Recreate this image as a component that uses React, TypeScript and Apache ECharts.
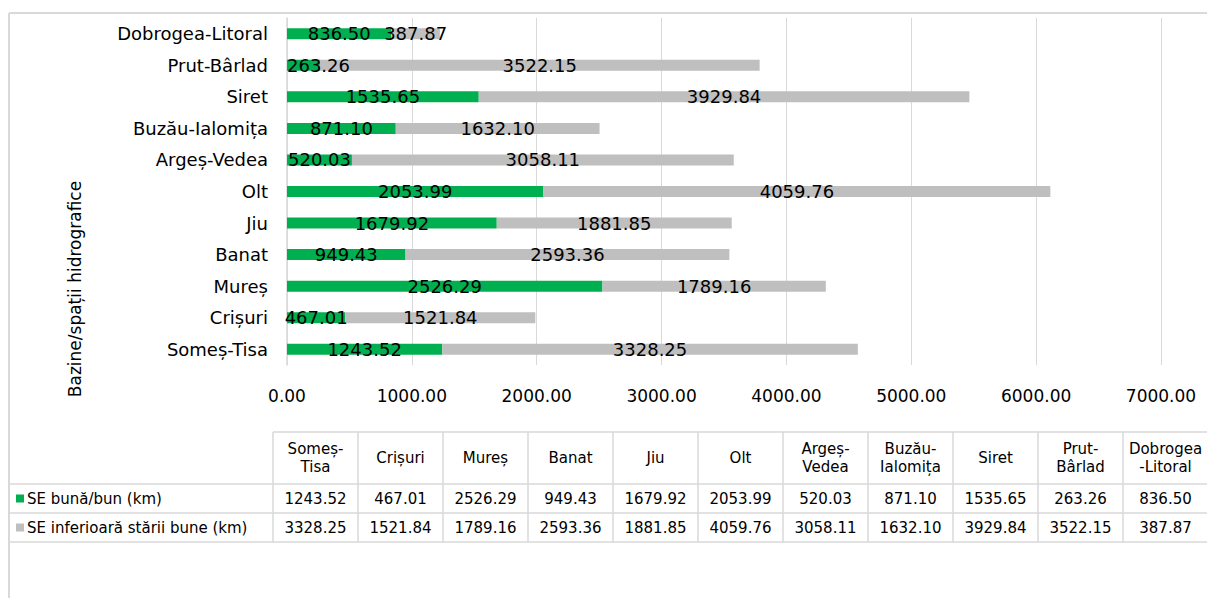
import React, { useEffect, useRef } from "react";
import * as echarts from "echarts";

const categories = ["Someș-Tisa", "Crișuri", "Mureș", "Banat", "Jiu", "Olt", "Argeș-Vedea", "Buzău-Ialomița", "Siret", "Prut-Bârlad", "Dobrogea-Litoral"];
const tableHeaders = ["Someș-\nTisa", "Crișuri", "Mureș", "Banat", "Jiu", "Olt", "Argeș-\nVedea", "Buzău-\nIalomița", "Siret", "Prut-\nBârlad", "Dobrogea\n-Litoral"];
const goodValues = [1243.52, 467.01, 2526.29, 949.43, 1679.92, 2053.99, 520.03, 871.10, 1535.65, 263.26, 836.50];
const poorValues = [3328.25, 1521.84, 1789.16, 2593.36, 1881.85, 4059.76, 3058.11, 1632.10, 3929.84, 3522.15, 387.87];
const seriesNames = ["SE bună/bun (km)", "SE inferioară stării bune (km)"];
const xTicks = [0, 1000, 2000, 3000, 4000, 5000, 6000, 7000];
const yAxisTitle = "Bazine/spații hidrografice";

const GREEN = "#00B050";
const GRAY = "#BFBFBF";
const LINE = "#D9D9D9";
const FONT = "DejaVu Sans";

export default function App() {
  const ref = useRef<HTMLDivElement>(null);
  useEffect(() => {
    if (!ref.current) return;
    const chart = echarts.init(ref.current, null, { renderer: "svg" });

    const gridLeft = 287;
    const gridRight = 46;
    const plotWidth = 1207 - gridLeft - gridRight;
    const xMax = xTicks[xTicks.length - 1];

    const canvas = document.createElement("canvas");
    const ctx = canvas.getContext("2d")!;
    ctx.font = `18px "${FONT}"`;
    // keep the first segment's label inside the plot area (as the original does)
    const goodData = goodValues.map((v) => {
      const barPx = (v / xMax) * plotWidth;
      const textW = ctx.measureText(v.toFixed(2)).width;
      if (barPx / 2 < textW / 2 - 2 && barPx < textW * 0.6) {
        return { value: v, label: { position: "insideLeft", distance: 0 } };
      }
      return v;
    });

    const tableLeft = 273;
    const colW = 85;
    const legLeft = 9;
    const headTop = 432;
    const headBottom = 484;
    const row1Bottom = 513;
    const row2Bottom = 542;
    const tableRight = tableLeft + categories.length * colW;
    const g: any[] = [];
    g.push({ type: "line", shape: { x1: 9, y1: 13, x2: 1207, y2: 13 }, style: { stroke: LINE, lineWidth: 2 } });
    g.push({ type: "line", shape: { x1: 9, y1: 13, x2: 9, y2: 598 }, style: { stroke: LINE, lineWidth: 2 } });
    g.push({ type: "line", shape: { x1: tableLeft, y1: headTop, x2: tableRight, y2: headTop }, style: { stroke: LINE, lineWidth: 1.5 } });
    [headBottom, row1Bottom, row2Bottom].forEach((y) =>
      g.push({ type: "line", shape: { x1: legLeft, y1: y, x2: tableRight, y2: y }, style: { stroke: LINE, lineWidth: 1.5 } })
    );
    for (let i = 0; i <= categories.length; i++) {
      const x = tableLeft + i * colW;
      g.push({ type: "line", shape: { x1: x, y1: headTop, x2: x, y2: row2Bottom }, style: { stroke: LINE, lineWidth: 1.5 } });
    }
    const rowsY = [(headBottom + row1Bottom) / 2, (row1Bottom + row2Bottom) / 2];
    const rowVals = [goodValues, poorValues];
    const rowColors = [GREEN, GRAY];
    categories.forEach((_, i) => {
      const cx = tableLeft + i * colW + colW / 2;
      g.push({
        type: "text",
        x: cx,
        y: (headTop + headBottom) / 2,
        style: { text: tableHeaders[i], align: "center", verticalAlign: "middle", font: `15px "${FONT}"`, fill: "#000", lineHeight: 18 },
      });
      rowVals.forEach((vals, r) => {
        g.push({
          type: "text",
          x: cx,
          y: rowsY[r],
          style: { text: vals[i].toFixed(2), align: "center", verticalAlign: "middle", font: `15px "${FONT}"`, fill: "#000" },
        });
      });
    });
    seriesNames.forEach((name, r) => {
      g.push({ type: "rect", shape: { x: 16, y: rowsY[r] - 4, width: 8, height: 8 }, style: { fill: rowColors[r] } });
      g.push({
        type: "text",
        x: 27,
        y: rowsY[r],
        style: { text: name, align: "left", verticalAlign: "middle", font: `15px "${FONT}"`, fill: "#000" },
      });
    });
    g.push({
      type: "text",
      x: 75,
      y: 289,
      rotation: Math.PI / 2,
      style: { text: yAxisTitle, align: "center", verticalAlign: "middle", font: `17px "${FONT}"`, fill: "#000" },
    });

    const labelStyle = {
      show: true,
      position: "inside",
      color: "#000",
      fontSize: 18,
      fontFamily: FONT,
      formatter: (p: any) => Number(p.value).toFixed(2),
    };

    chart.setOption({
      animation: false,
      textStyle: { fontFamily: FONT },
      grid: { left: gridLeft, right: gridRight, top: 18, bottom: 233, containLabel: false },
      xAxis: {
        type: "value",
        min: xTicks[0],
        max: xMax,
        interval: 1000,
        axisLine: { show: false },
        axisTick: { show: false },
        splitLine: { show: true, lineStyle: { color: LINE, width: 1 } },
        axisLabel: { color: "#000", fontSize: 17, fontFamily: FONT, margin: 22, formatter: (v: number) => v.toFixed(2) },
      },
      yAxis: {
        type: "category",
        data: categories,
        axisLine: { show: true, lineStyle: { color: LINE, width: 1.5 } },
        axisTick: { show: false },
        axisLabel: { color: "#000", fontSize: 18, fontFamily: FONT, margin: 19 },
      },
      series: [
        {
          name: seriesNames[0],
          type: "bar",
          stack: "total",
          data: goodData,
          barWidth: 11,
          itemStyle: { color: GREEN },
          label: labelStyle,
        },
        {
          name: seriesNames[1],
          type: "bar",
          stack: "total",
          data: poorValues,
          barWidth: 11,
          itemStyle: { color: GRAY },
          label: labelStyle,
        },
      ],
      graphic: { elements: g },
    });
    return () => chart.dispose();
  }, []);
  return (
    <div
      ref={ref}
      style={{ position: "fixed", left: 0, top: 0, width: 1207, height: 598, background: "#fff" }}
    />
  );
}
